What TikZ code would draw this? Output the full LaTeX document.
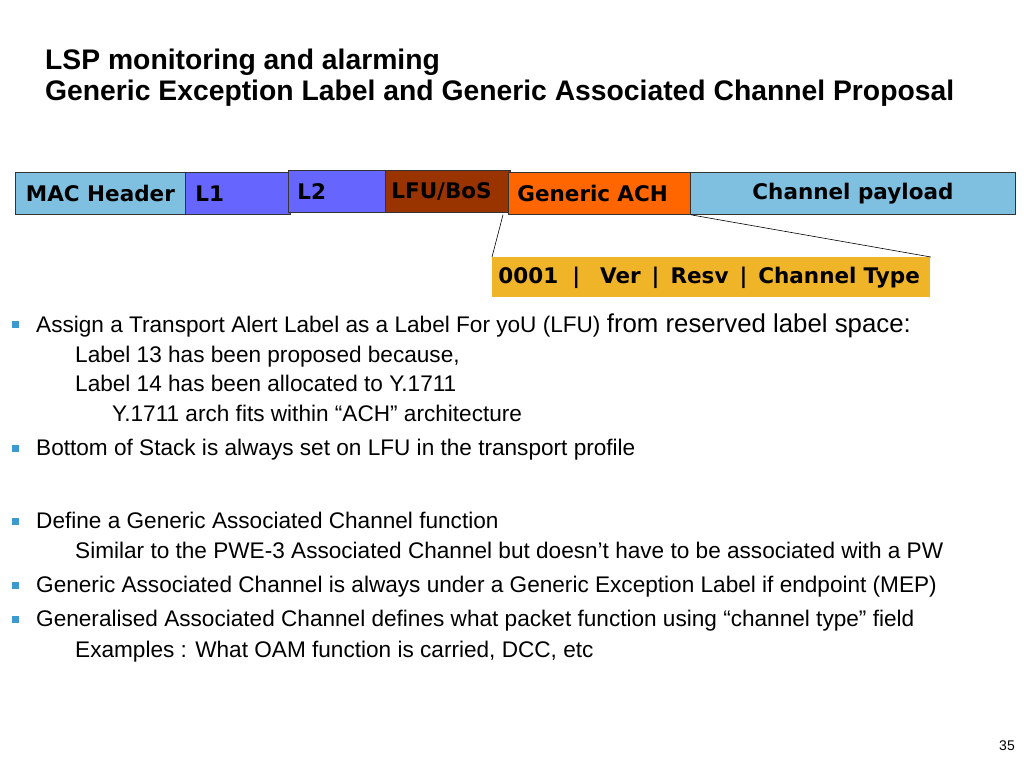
\documentclass[tikz,border=0pt]{standalone}
\usepackage{fontspec}
\setmainfont{Liberation Sans}
\newfontfamily\boxfont{DejaVu Sans}
\definecolor{lblue}{HTML}{7FC0E0}
\definecolor{violet}{HTML}{6666FF}
\definecolor{brownc}{HTML}{993300}
\definecolor{orangec}{HTML}{FF6600}
\definecolor{goldc}{HTML}{F0B428}
\definecolor{bulletc}{HTML}{3C9AD0}
\tikzset{
  fieldbox/.style={draw=black!80, line width=0.8pt, anchor=north west, inner sep=0pt,
    font=\boxfont\bfseries\fontsize{21.5}{24}\selectfont, text=black},
  body/.style={anchor=base west, inner sep=0pt, font=\fontsize{22.6}{26}\selectfont},
  titletext/.style={anchor=base west, inner sep=0pt, font=\bfseries\fontsize{28.3}{32}\selectfont},
  bul/.style={fill=bulletc, draw=none, minimum size=7pt, inner sep=0pt},
}
\begin{document}
\begin{tikzpicture}[x=1pt,y=-1pt]
\useasboundingbox (0,0) rectangle (1024,768);
% title
\node[titletext] (t1) at (45,69) {LSP monitoring and alarming};
\node[titletext] (t2) at (45,100) {Generic Exception Label and Generic Associated Channel Proposal};
% packet fields
\node[fieldbox, fill=lblue, minimum width=170pt, minimum height=42pt] (mac) at (15,172) {MAC Header};
\node[fieldbox, fill=violet, minimum width=105pt, minimum height=42pt, text width=85pt, align=left, inner xsep=10pt] (l1) at (185,172) {L1};
\node[fieldbox, fill=violet, minimum width=102pt, minimum height=42pt, text width=84pt, align=left, inner xsep=9pt] (l2) at (288,170) {L2};
\node[fieldbox, fill=brownc, minimum width=125pt, minimum height=42pt, text width=113pt, align=left, inner xsep=6pt] (lfu) at (385,170) {LFU/BoS};
\node[fieldbox, fill=orangec, minimum width=182pt, minimum height=42pt, text width=164pt, align=left, inner xsep=9pt] (ach) at (508,172) {Generic ACH};
\node[fieldbox, fill=lblue, minimum width=325pt, minimum height=42pt] (pay) at (690,172) {Channel payload};
\node[fieldbox, draw=none, fill=goldc, minimum width=438pt, minimum height=40pt, text width=426pt, align=left, inner xsep=6pt] (hdr) at (492,257) {\mbox{0001\hspace{14pt}|\hspace{20pt}Ver\hspace{11pt}|\hspace{11pt}Resv\hspace{11pt}|\hspace{11pt}Channel Type}};
\draw[line width=0.6pt] ([xshift=-5pt]ach.south west) -- (hdr.north west);
\draw[line width=0.6pt] (ach.south east) -- (hdr.north east);
% bullets
\node[bul] (b1) at (15,324) {};
\node[body] (s1) at (36,332) {Assign a Transport Alert Label as a Label For yoU (LFU) {\fontsize{25.8}{28}\selectfont from reserved label space:}};
\node[body] (s1a) at (75,362) {Label 13 has been proposed because,};
\node[body] (s1b) at (75,391) {Label 14 has been allocated to Y.1711};
\node[body] (s1c) at (112,421) {Y.1711 arch fits within “ACH” architecture};
\node[bul] (b2) at (15,448) {};
\node[body] (s2) at (36,455) {Bottom of Stack is always set on LFU in the transport profile};
\node[bul] (b3) at (15,521) {};
\node[body] (s3) at (36,528) {Define a Generic Associated Channel function};
\node[body] (s3a) at (75,558) {Similar to the PWE-3 Associated Channel but doesn’t have to be associated with a PW};
\node[bul] (b4) at (15,585) {};
\node[body] (s4) at (36,592) {Generic Associated Channel is always under a Generic Exception Label if endpoint (MEP)};
\node[bul] (b5) at (15,619) {};
\node[body] (s5) at (36,626) {Generalised Associated Channel defines what packet function using “channel type” field};
\node[body] (s5a) at (75,657) {Examples : What OAM function is carried, DCC, etc};
% page number
\node[anchor=base east, inner sep=0pt, font=\fontsize{14}{16}\selectfont] (pg) at (1015,750) {35};
\end{tikzpicture}
\end{document}
